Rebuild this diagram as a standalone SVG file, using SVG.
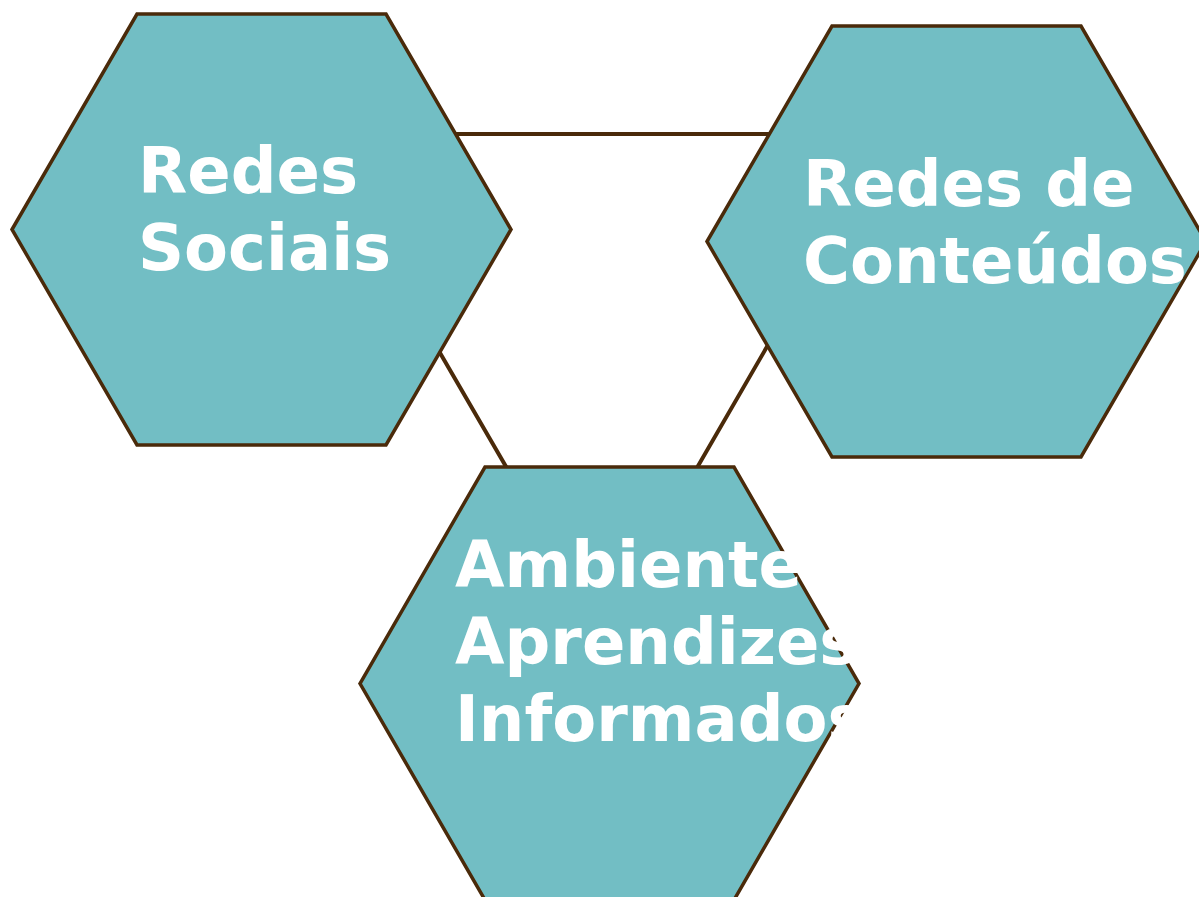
<svg xmlns="http://www.w3.org/2000/svg" width="1199" height="897" viewBox="0 0 1199 897">
  <style>
    .hex { fill: #72bec4; stroke: #4a2a0a; stroke-width: 3.5; stroke-linejoin: miter; }
    .link { fill: none; stroke: #4a2a0a; stroke-width: 4; }
    .label { font-family: "DejaVu Sans", sans-serif; font-weight: bold; font-size: 64px; fill: #ffffff; }
  </style>
  <rect width="1199" height="897" fill="#ffffff"/>
  <g id="connectors">
    <polygon class="link" points="313,134 890,134 602,632"/>
  </g>
  <g id="redes-sociais">
    <polygon class="hex" points="12,229.5 137,14 386,14 511,229.5 386,445 137,445"/>
  </g>
  <g id="redes-conteudos">
    <polygon class="hex" points="707,241.5 832,26 1081,26 1206,241.5 1081,457 832,457"/>
  </g>
  <g id="ambientes">
    <polygon class="hex" points="360,683.5 485,467 734,467 859,683.5 734,900 485,900"/>
  </g>
  <g id="labels">
    <text class="label" x="138" y="193">Redes</text>
    <text class="label" x="138" y="270">Sociais</text>
    <text class="label" x="803" y="206">Redes de</text>
    <text class="label" x="803" y="283">Conteúdos</text>
    <text class="label" x="455" y="587">Ambientes</text>
    <text class="label" x="455" y="664">Aprendizes</text>
    <text class="label" x="455" y="741">Informados</text>
  </g>
</svg>
